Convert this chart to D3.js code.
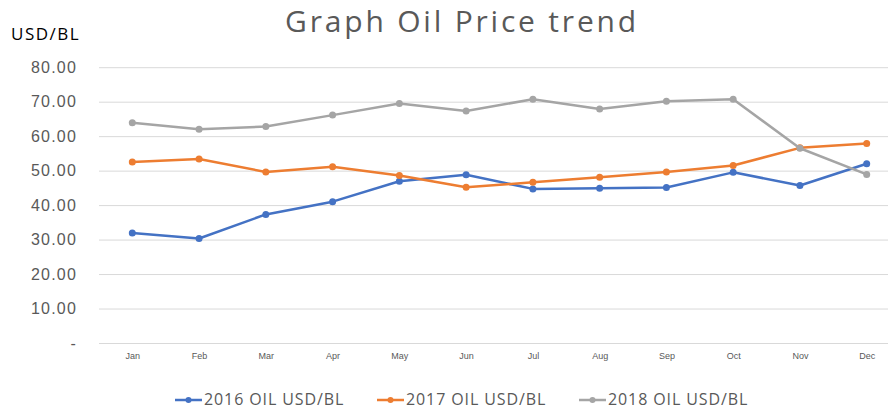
<!DOCTYPE html>
<html>
<head>
<meta charset="utf-8">
<script src="https://cdn.jsdelivr.net/npm/d3@7"></script>
<style>
  body { margin: 0; background: #fff; }
  svg { font-family: "Open Sans", sans-serif; display: block; }
</style>
</head>
<body>
<div id="chart"></div>
<script>
const months = ['Jan', 'Feb', 'Mar', 'Apr', 'May', 'Jun', 'Jul', 'Aug', 'Sep', 'Oct', 'Nov', 'Dec'];
const oil2016 = [31.9, 30.3, 37.3, 41.0, 46.9, 48.8, 44.7, 44.9, 45.1, 49.5, 45.7, 52.0];
const oil2017 = [52.5, 53.4, 49.6, 51.1, 48.6, 45.2, 46.6, 48.1, 49.6, 51.5, 56.6, 57.9];
const oil2018 = [63.9, 62.0, 62.8, 66.1, 69.5, 67.3, 70.7, 67.9, 70.1, 70.7, 56.5, 48.9];
const seriesNames = ['2016 OIL USD/BL', '2017 OIL USD/BL', '2018 OIL USD/BL'];
const yTicks = [0, 10, 20, 30, 40, 50, 60, 70, 80];

const colors = ['#4472C4', '#ED7D31', '#A5A5A5'];
const series = [oil2016, oil2017, oil2018].map((vals, i) => ({ name: seriesNames[i], values: vals, color: colors[i] }));

const width = 888;
const height = 409;

const xScale = d3.scalePoint()
  .domain(months)
  .range([132.3, 866.7]);

const yScale = d3.scaleLinear()
  .domain([0, 80])
  .range([343, 67.2]);

const svg = d3.select('#chart')
  .append('svg')
  .attr('width', width)
  .attr('height', height);

// title
svg.append('text')
  .attr('x', 462)
  .attr('y', 32)
  .attr('text-anchor', 'middle')
  .attr('fill', '#595959')
  .style('font-size', '30px')
  .style('letter-spacing', '2.8px')
  .text('Graph Oil Price trend');

svg.append('text')
  .attr('x', 11)
  .attr('y', 40)
  .attr('fill', '#000')
  .style('font-size', '17px')
  .style('letter-spacing', '1.5px')
  .text('USD/BL');

// gridlines + y labels
const yAxis = d3.axisLeft(yScale)
  .tickValues(yTicks)
  .tickSize(-(888 - 99))
  .tickFormat(d => d === 0 ? '-' : d3.format('.2f')(d));

const yG = svg.append('g')
  .attr('transform', 'translate(99,0)')
  .call(yAxis);
yG.select('.domain').remove();
yG.selectAll('.tick line').attr('stroke', '#D9D9D9').attr('stroke-width', 1);
yG.selectAll('.tick text')
  .attr('fill', '#595959')
  .style('font-size', '16px')
  .style('letter-spacing', '1.2px')
  .attr('x', -22);

// x labels
const xAxis = d3.axisBottom(xScale).tickSize(0).tickPadding(10);
const xG = svg.append('g')
  .attr('transform', 'translate(0,343)')
  .call(xAxis);
xG.select('.domain').remove();
xG.selectAll('.tick text')
  .attr('fill', '#595959')
  .style('font-size', '9px');

const line = d3.line()
  .x((d, i) => xScale(months[i]))
  .y(d => yScale(d));

const sg = svg.selectAll('.series')
  .data(series)
  .enter()
  .append('g')
  .attr('class', 'series');

sg.append('path')
  .attr('d', d => line(d.values))
  .attr('fill', 'none')
  .attr('stroke', d => d.color)
  .attr('stroke-width', 2.5)
  .attr('stroke-linejoin', 'round');

sg.selectAll('circle')
  .data(d => d.values.map((v, i) => ({ v, i, color: d.color })))
  .enter()
  .append('circle')
  .attr('cx', d => xScale(months[d.i]))
  .attr('cy', d => yScale(d.v))
  .attr('r', 3.5)
  .attr('fill', d => d.color);

// legend
const legendX = [175, 377, 579];
const lg = svg.selectAll('.legend')
  .data(series)
  .enter()
  .append('g')
  .attr('class', 'legend')
  .attr('transform', (d, i) => `translate(${legendX[i]},400)`);

lg.append('line')
  .attr('x1', 0).attr('x2', 27)
  .attr('y1', 0).attr('y2', 0)
  .attr('stroke', d => d.color)
  .attr('stroke-width', 2.5);
lg.append('circle')
  .attr('cx', 13.5).attr('cy', 0).attr('r', 3)
  .attr('fill', d => d.color);
lg.append('text')
  .attr('x', 29)
  .attr('y', 5)
  .attr('fill', '#595959')
  .style('font-size', '16px')
  .style('letter-spacing', '0.9px')
  .text(d => d.name);
</script>
</body>
</html>
